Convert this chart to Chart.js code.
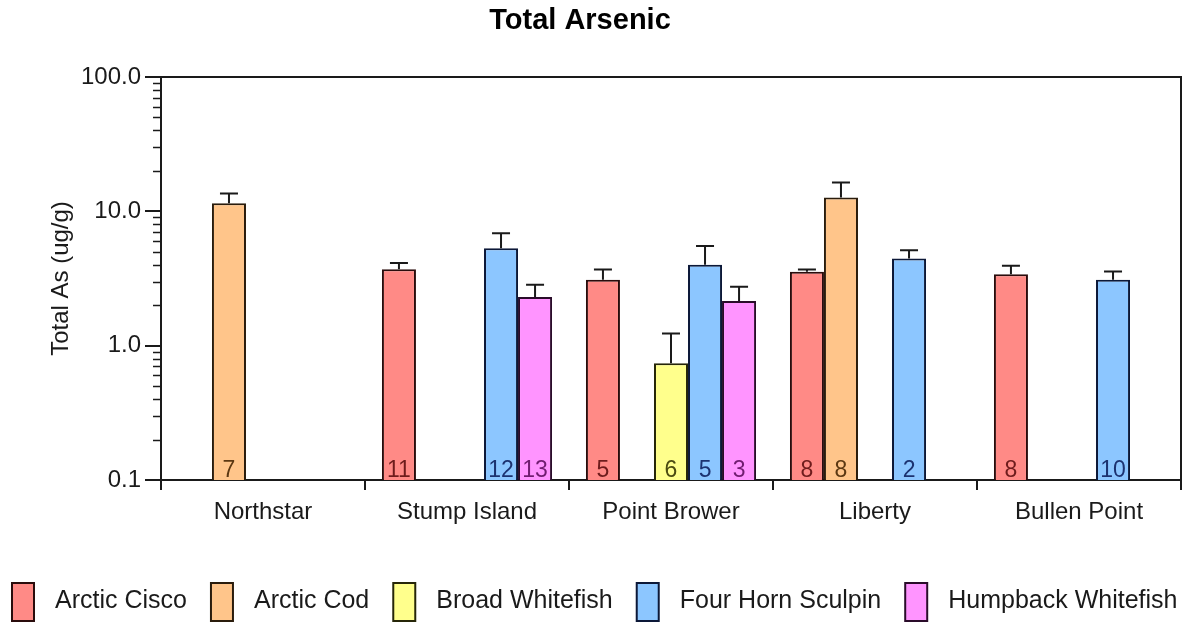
<!DOCTYPE html>
<html>
<head>
<meta charset="utf-8">
<script src="https://cdn.jsdelivr.net/npm/chart.js@4.4.1/dist/chart.umd.min.js"></script>
<style>
  html, body { margin: 0; padding: 0; background: #fff; }
  #wrap { width: 1183px; height: 624px; position: relative; }
</style>
</head>
<body>
<div id="wrap"><canvas id="arsenic"></canvas></div>
<script>
const sites = ['Northstar', 'Stump Island', 'Point Brower', 'Liberty', 'Bullen Point'];
const species = ['Arctic Cisco', 'Arctic Cod', 'Broad Whitefish', 'Four Horn Sculpin', 'Humpback Whitefish'];

// mean total As (ug/g) per site
const arcticCisco = [null, 3.7, 3.1, 3.55, 3.4];
const arcticCod = [11.5, null, null, 12.7, null];
const broadWhitefish = [null, null, 0.74, null, null];
const fourHornSculpin = [null, 5.3, 4.0, 4.45, 3.1];
const humpbackWhitefish = [null, 2.3, 2.15, null, null];

// upper error (added to the mean)
const errCisco = [null, 0.42, 0.59, 0.14, 0.53];
const errCod = [2.1, null, null, 3.7, null];
const errBroad = [null, null, 0.49, null, null];
const errSculpin = [null, 1.56, 1.53, 0.68, 0.47];
const errHumpback = [null, 0.54, 0.6, null, null];

// sample counts
const nCisco = [null, 11, 5, 8, 8];
const nCod = [7, null, null, 8, null];
const nBroad = [null, null, 6, null, null];
const nSculpin = [null, 12, 5, 2, 10];
const nHumpback = [null, 13, 3, null, null];

const yTicks = [0.1, 1, 10, 100];

const fills = ['#ff8a86', '#ffc58a', '#ffff8c', '#8cc6ff', '#ff94ff'];
const edges = ['#2a0c0c', '#2a1c0c', '#262608', '#0c1838', '#2a0c2a'];
const countColors = ['#6e1c1c', '#5c3812', '#4c4c12', '#1c3270', '#701c70'];

const values = [arcticCisco, arcticCod, broadWhitefish, fourHornSculpin, humpbackWhitefish];
const errors = [errCisco, errCod, errBroad, errSculpin, errHumpback];
const counts = [nCisco, nCod, nBroad, nSculpin, nHumpback];

const FONT = 'Arial, "Liberation Sans", sans-serif';
const INK = '#1a1a1a';

const datasets = species.map((name, i) => ({
    label: name,
    data: values[i],
    errUp: errors[i],
    counts: counts[i],
    backgroundColor: fills[i],
    borderColor: edges[i],
    borderWidth: 2,
    borderSkipped: 'bottom',
    countColor: countColors[i]
}));

// title, frame, minor ticks, error bars, n labels, legend
const decorations = {
    id: 'decorations',
    afterDatasetsDraw(chart) {
        const ctx = chart.ctx;
        const area = chart.chartArea;
        const y = chart.scales.y;

        ctx.save();
        ctx.strokeStyle = INK;
        ctx.lineWidth = 2;

        // error bars
        chart.data.datasets.forEach((ds, di) => {
            const meta = chart.getDatasetMeta(di);
            meta.data.forEach((bar, k) => {
                const v = ds.data[k];
                if (v == null || ds.errUp[k] == null) return;
                const top = y.getPixelForValue(v + ds.errUp[k]);
                ctx.beginPath();
                ctx.moveTo(bar.x, bar.y);
                ctx.lineTo(bar.x, top);
                ctx.moveTo(bar.x - 9, top);
                ctx.lineTo(bar.x + 9, top);
                ctx.stroke();
            });
        });

        // sample counts at the foot of each bar
        ctx.font = '23px "Liberation Sans Narrow", "Arial Narrow", ' + FONT;
        ctx.textAlign = 'center';
        ctx.textBaseline = 'alphabetic';
        chart.data.datasets.forEach((ds, di) => {
            const meta = chart.getDatasetMeta(di);
            meta.data.forEach((bar, k) => {
                if (ds.data[k] == null) return;
                ctx.fillStyle = ds.countColor;
                ctx.fillText(String(ds.counts[k]), bar.x, area.bottom - 3);
            });
        });
        ctx.restore();
    },
    afterDraw(chart) {
        const ctx = chart.ctx;
        const area = chart.chartArea;
        const y = chart.scales.y;

        ctx.save();
        ctx.strokeStyle = INK;
        ctx.lineWidth = 2;

        // top and right frame
        ctx.beginPath();
        ctx.moveTo(area.left, area.top);
        ctx.lineTo(area.right, area.top);
        ctx.lineTo(area.right, area.bottom + 10);
        ctx.stroke();

        // minor log ticks
        ctx.lineWidth = 1.5;
        ctx.beginPath();
        for (let d = 0.1; d < 100; d *= 10) {
            for (let m = 2; m <= 9; m++) {
                const py = Math.round(y.getPixelForValue(m * d)) + 0.5;
                ctx.moveTo(area.left - 8, py);
                ctx.lineTo(area.left, py);
            }
        }
        ctx.stroke();

        // title
        ctx.fillStyle = '#000';
        ctx.font = 'bold 29px ' + FONT;
        ctx.textAlign = 'center';
        ctx.textBaseline = 'alphabetic';
        ctx.fillText('Total Arsenic', 580, 29);

        // legend
        ctx.font = '25px ' + FONT;
        ctx.textAlign = 'left';
        ctx.textBaseline = 'middle';
        let x = 12;
        chart.data.datasets.forEach(ds => {
            ctx.fillStyle = ds.backgroundColor;
            ctx.fillRect(x, 583, 22, 38);
            ctx.strokeStyle = ds.borderColor;
            ctx.lineWidth = 2;
            ctx.strokeRect(x, 583, 22, 38);
            x += 22 + 21;
            ctx.fillStyle = INK;
            ctx.fillText(ds.label, x, 601);
            x += ctx.measureText(ds.label).width + 24;
        });
        ctx.restore();
    }
};

new Chart(document.getElementById('arsenic'), {
    type: 'bar',
    data: { labels: sites, datasets: datasets },
    options: {
        responsive: true,
        maintainAspectRatio: false,
        animation: false,
        categoryPercentage: 0.834,
        barPercentage: 1,
        layout: { padding: { top: 77, right: 2, left: 0, bottom: 0 } },
        plugins: {
            legend: { display: false },
            title: { display: false },
            tooltip: { enabled: false }
        },
        scales: {
            x: {
                grid: {
                    offset: true,
                    drawOnChartArea: false,
                    tickLength: 10,
                    color: INK,
                    lineWidth: 2
                },
                border: { color: INK, width: 2 },
                ticks: {
                    color: INK,
                    font: { family: FONT, size: 24 },
                    padding: 8,
                    maxRotation: 0
                },
                afterFit(scale) { scale.height = 144; }
            },
            y: {
                type: 'logarithmic',
                min: 0.1,
                max: 100,
                afterBuildTicks(scale) {
                    scale.ticks = yTicks.map(v => ({ value: v, major: true }));
                },
                grid: {
                    drawOnChartArea: false,
                    tickLength: 16,
                    color: INK,
                    lineWidth: 2
                },
                border: { color: INK, width: 2 },
                ticks: {
                    color: INK,
                    font: { family: FONT, size: 24 },
                    padding: 4,
                    autoSkip: false,
                    callback: v => Number(v).toFixed(1)
                },
                title: {
                    display: true,
                    text: 'Total As (ug/g)',
                    color: INK,
                    font: { family: FONT, size: 24 },
                    padding: { top: 47, bottom: 0 }
                },
                afterFit(scale) { scale.width = 161; }
            }
        }
    },
    plugins: [decorations]
});
</script>
</body>
</html>
